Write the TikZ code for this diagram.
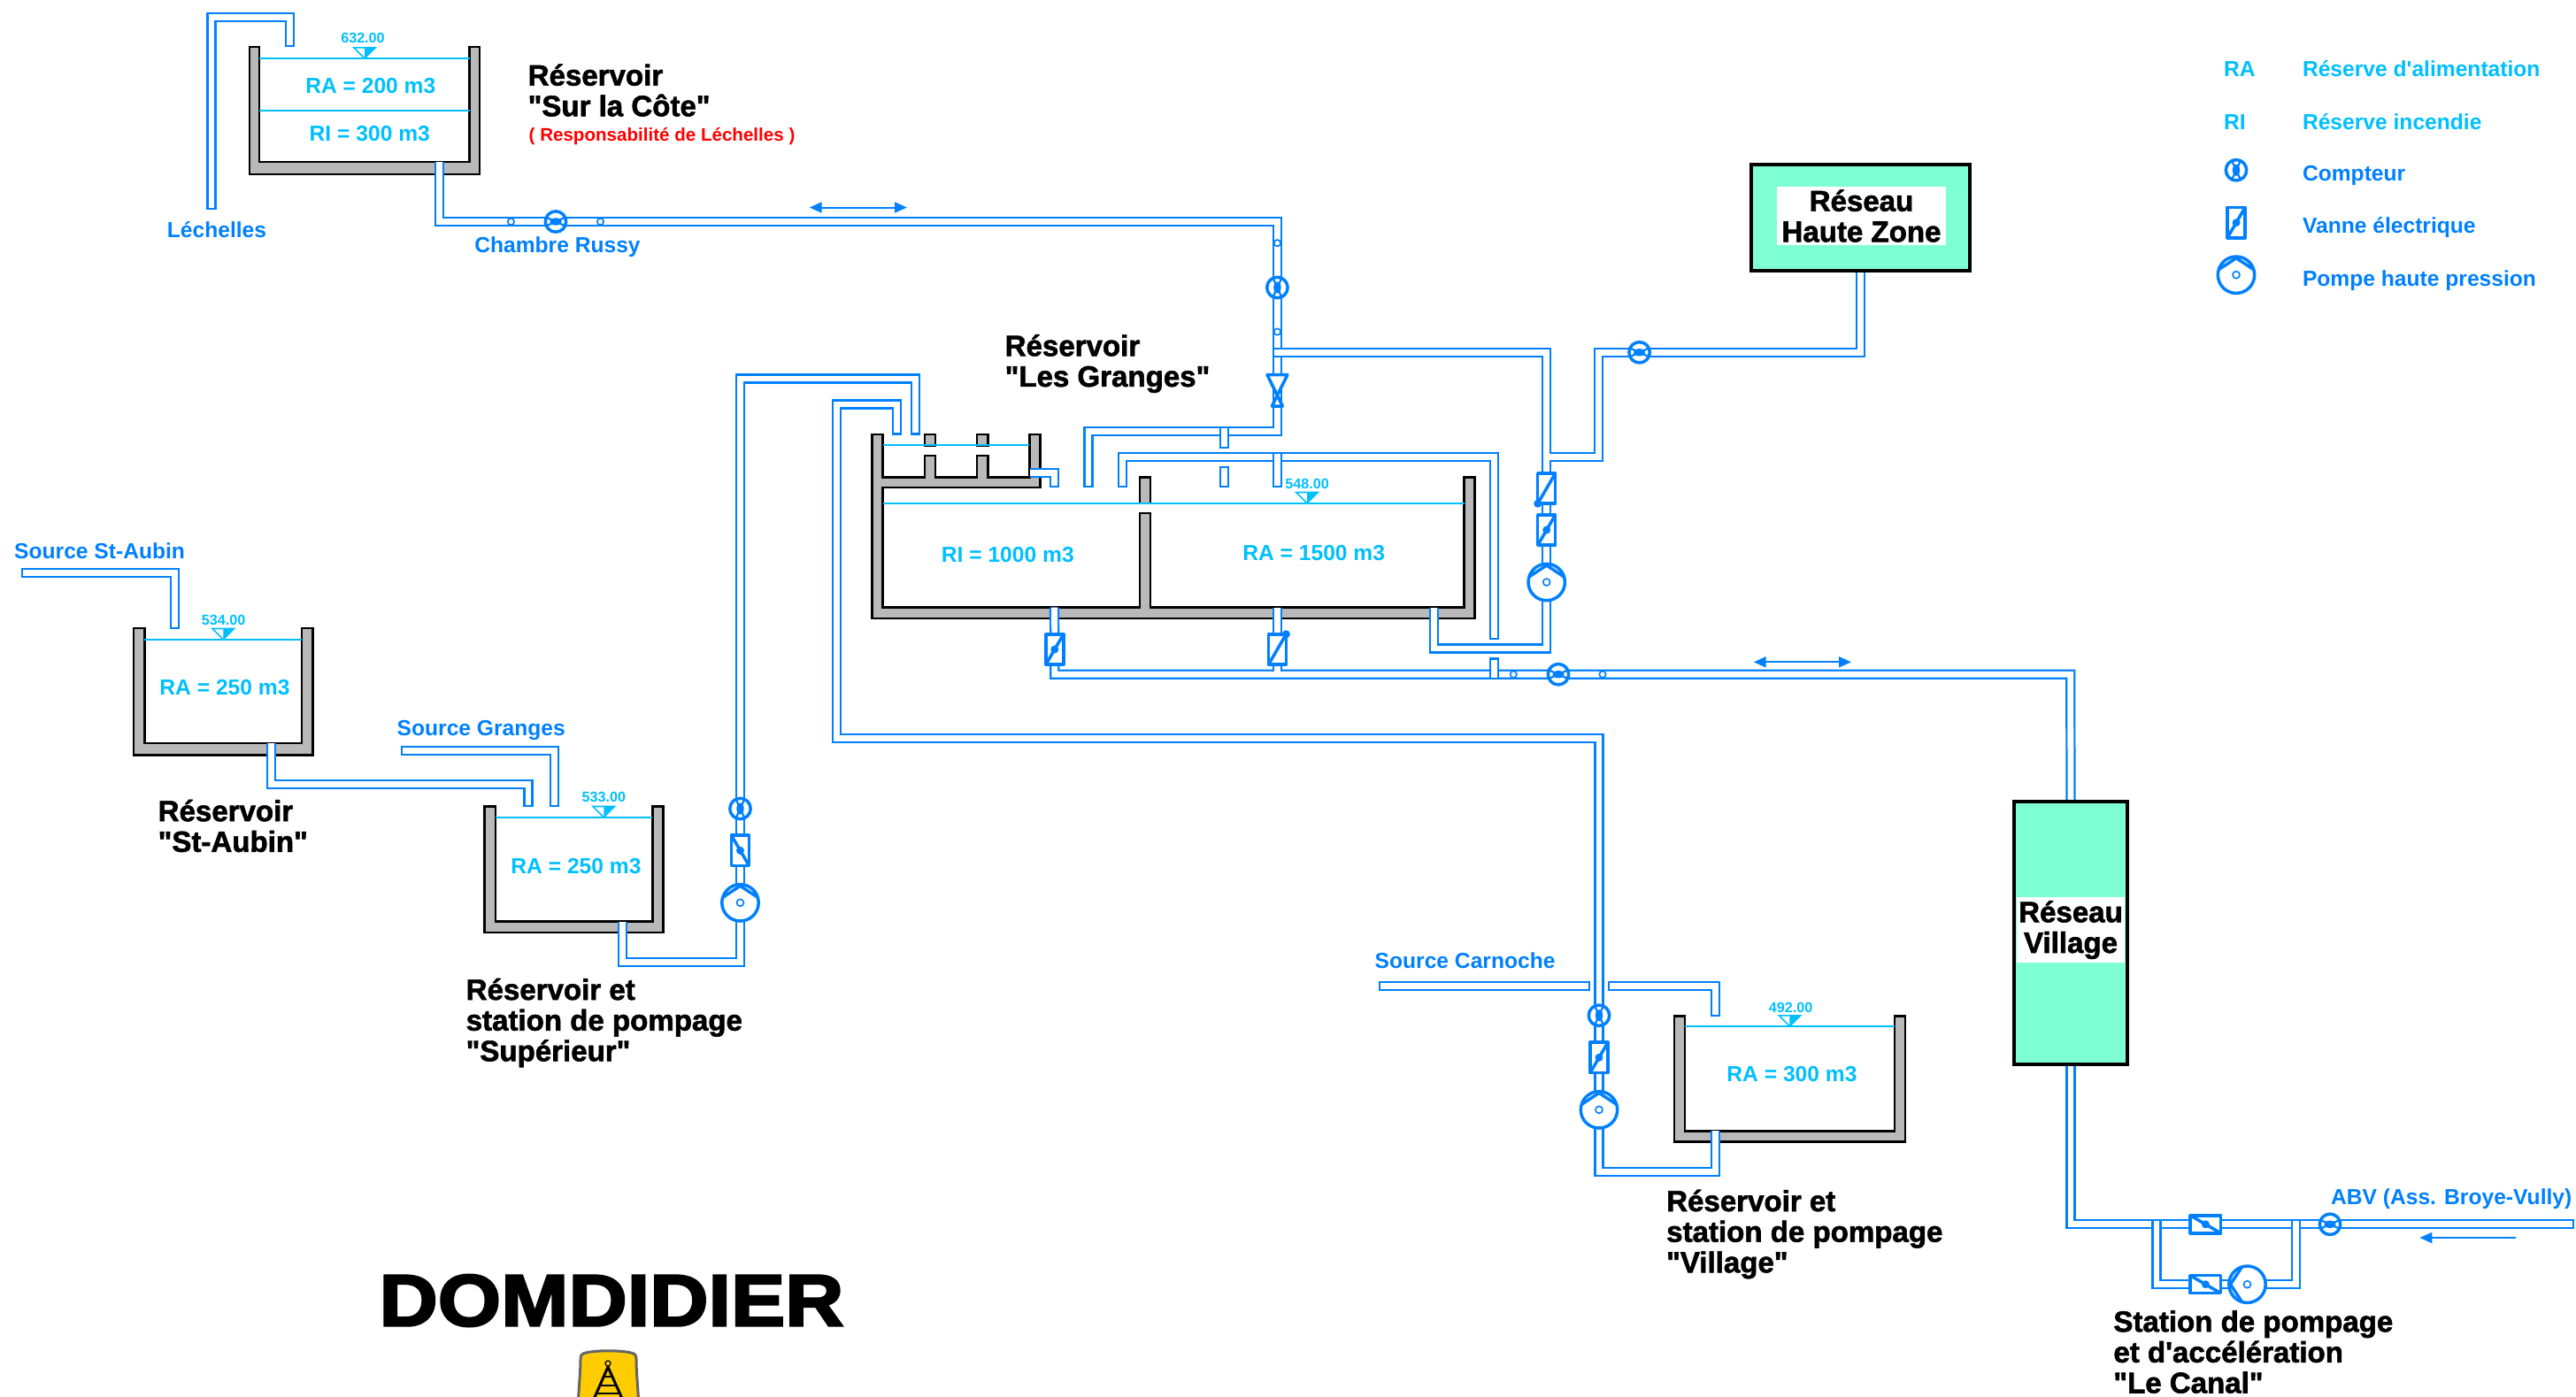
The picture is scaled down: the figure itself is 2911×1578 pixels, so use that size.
\documentclass[tikz,border=0pt]{standalone}
\usepackage{fontspec}
\usetikzlibrary{arrows.meta}
\newfontfamily\labfont{Liberation Sans}
\newfontfamily\heavyfont{Liberation Sans}[BoldFeatures={FakeBold=1.8}]
\newfontfamily\blackfont{Liberation Sans}[BoldFeatures={FakeBold=3,FakeStretch=1.11}]
\definecolor{pipeblue}{HTML}{0080FF}
\definecolor{eaublue}{HTML}{00BFFF}
\definecolor{wallgray}{HTML}{B9B9B9}
\definecolor{reseaugreen}{HTML}{7FFFD4}
\definecolor{logoyellow}{HTML}{FFCC00}
\tikzset{
  pipe/.style={draw=pipeblue,line width=0.022cm,double=white,double distance=0.068cm,line cap=rect,line join=miter},
  pipeopen/.style={pipe,line cap=butt},
  wall/.style={draw=black,fill=wallgray,line width=0.026cm,line join=miter},
  eau/.style={draw=eaublue,line width=0.02cm},
  devline/.style={draw=pipeblue,line width=0.035cm,line join=round},
  fineline/.style={draw=pipeblue,line width=0.016cm,fill=white},
  fleche/.style={draw=pipeblue,line width=0.02cm},
  titre/.style={anchor=west,align=left,inner sep=0pt,font=\heavyfont\bfseries\fontsize{9.4}{9.85}\selectfont},
  bleu/.style={text=pipeblue,inner sep=0pt,font=\labfont\bfseries\fontsize{7}{8}\selectfont},
  clair/.style={bleu,text=eaublue},
  volume/.style={clair,font=\labfont\bfseries\fontsize{7}{8}\selectfont},
  cote/.style={clair,font=\labfont\bfseries\fontsize{4.6}{5}\selectfont},
  reseau/.style={draw=black,fill=reseaugreen,line width=0.04cm,inner sep=0pt},
  reseautxt/.style={fill=white,inner sep=0pt,align=center,font=\heavyfont\bfseries\fontsize{9.4}{9.85}\selectfont},
  pump/.pic={
    \draw[devline,fill=white] (0,0) circle (20.7);
    \draw[devline] (-19.8,-6) -- (0,-19) -- (19.8,-6);
    \draw[fineline] (0,0) circle (4);
  },
  compteur/.pic={
    \draw[devline,fill=white] (0,0) circle (11.7);
    \draw[draw=pipeblue,line width=0.022cm] (-5,-11) -- (5,11) (5,-11) -- (-5,11);
    \fill[pipeblue] (0,0) ellipse (4.2 and 6.5);
  },
  pics/vanne/.style={code={
    \draw[devline,fill=white] (-10,-17.2) rectangle (10,17.2);
    \draw[devline] (-10,17.2) -- (10,-17.2);
    \fill[pipeblue] (#1) circle (4.5);
  }},
  clapet/.pic={
    \draw[devline,fill=white] (-11.5,-18) -- (11.5,-18) -- (-6,17.5) -- (6,17.5) -- cycle;
  },
  niveau/.pic={
    \draw[eau,fill=white,line width=0.016cm] (-12.2,-12.2) -- (12.2,-12.2) -- (0,0) -- cycle;
    \fill[eaublue] (0,-12.2) -- (12.2,-12.2) -- (0,0) -- cycle;
  },
  repere/.pic={
    \draw[fineline] (0,0) circle (3.7);
  }
}
\begin{document}
\begin{tikzpicture}[x=0.01cm,y=-0.01cm]
\clip (0,0) rectangle (2911,1578);
\draw[wall] (282,53) -- (282,197) -- (542,197) -- (542,53) -- (530.5,53) -- (530.5,183) -- (293,183) -- (293,53) -- cycle;
\draw[wall] (151,710) -- (151,853.3) -- (353.3,853.3) -- (353.3,710) -- (341,710) -- (341,840) -- (163.3,840) -- (163.3,710) -- cycle;
\draw[wall] (547.7,911.7) -- (547.7,1054) -- (749.7,1054) -- (749.7,911.7) -- (737.3,911.7) -- (737.3,1041.7) -- (560,1041.7) -- (560,911.7) -- cycle;
\draw[wall] (1891.8,1148.3) -- (1891.8,1290.7) -- (2153,1290.7) -- (2153,1148.3) -- (2140.8,1148.3) -- (2140.8,1278.3) -- (1904,1278.3) -- (1904,1148.3) -- cycle;
\draw[wall] (985.7,491) -- (985.7,699) -- (1666.3,699) -- (1666.3,539.3) -- (1654.6,539.3) -- (1654.6,686.7) -- (1300,686.7) -- (1300,580) -- (1287.8,580) -- (1287.8,686.7) -- (997.5,686.7) -- (997.5,551) -- (1175.5,551) -- (1175.5,491) -- (1163.3,491) -- (1163.3,539.3) -- (1116.3,539.3) -- (1116.3,515) -- (1104,515) -- (1104,539.3) -- (1057.1,539.3) -- (1057.1,515) -- (1044.9,515) -- (1044.9,539.3) -- (997.5,539.3) -- (997.5,491) -- cycle;
\draw[wall] (1287.8,539.3) rectangle (1300,569);
\draw[wall] (1044.9,491) rectangle (1057.1,504);
\draw[wall] (1104,491) rectangle (1116.3,504);
\draw[eau] (293,66) -- (530.5,66);
\draw[eau] (293,124.5) -- (530.5,124.5);
\draw[eau] (163.3,722.7) -- (341,722.7);
\draw[eau] (560,923.7) -- (737.3,923.7);
\draw[eau] (1904,1160) -- (2140.8,1160);
\draw[eau] (997.5,503.3) -- (1163.3,503.3);
\draw[eau] (997.5,568.7) -- (1654.6,568.7);
\pic at (412,66) {niveau};
\pic at (252.3,722.7) {niveau};
\pic at (682.3,923.7) {niveau};
\pic at (2022.4,1160) {niveau};
\pic at (1477,568.7) {niveau};
\node[reseau,minimum width=2.47cm,minimum height=1.2cm] (zone) at (2102.7,246) {};
\node[reseautxt,minimum width=1.91cm,minimum height=0.66cm] (zonetxt) at (2103.5,244) {Réseau\\Haute Zone};
\node[reseau,minimum width=1.28cm,minimum height=2.97cm] (village) at (2340,1054.5) {};
\node[reseautxt,minimum width=1.22cm,minimum height=0.74cm] (villagetxt) at (2340,1051) {Réseau\\Village};
\coordinate (sortcote) at (496.5,183);
\coordinate (sortaubin) at (306.8,840);
\coordinate (sortsup) at (703.5,1041.7);
\coordinate (sortvil) at (1938.4,1278.3);
\coordinate (sortri) at (1191.5,686.7);
\coordinate (sortra) at (1443.4,686.7);
\coordinate (sortaux) at (1620.5,686.7);
\coordinate (sortch) at (1164,534.7);
\coordinate (vanri) at (1191.8,734);
\coordinate (vanra) at (1443.4,734);
\coordinate (van1) at (1747.7,552);
\coordinate (van2) at (1747.7,599);
\coordinate (pompe1) at (1747.7,658);
\coordinate (vansup) at (836.5,961.3);
\coordinate (pompesup) at (836.5,1020.3);
\coordinate (cptsup) at (836.5,914);
\coordinate (vanvil) at (1807,1195.3);
\coordinate (pompevil) at (1807,1254.3);
\coordinate (cptvil) at (1807,1147.7);
\coordinate (vancan1) at (2492.4,1383.8);
\coordinate (vancan2) at (2492.4,1451.7);
\coordinate (pompecan) at (2539.5,1451.7);
\coordinate (cptabv) at (2633,1383.8);
\coordinate (clap) at (1443.4,441.5);
\draw[pipe] (239,231.4) -- (239,19.5) -- (327.5,19.5) -- (327.5,47.4);
\draw[pipeopen] (sortcote) |- (1443.4,250.5) -- (clap);
\draw[pipe] (1443.4,398.3) -- (1747.7,398.3) -- (pompe1);
\draw[pipeopen] (1751.1,516.7) -- (1806.5,516.7) -- (1806.5,398.3) -| (zone.south);
\draw[pipeopen] (sortaux) |- (1747.7,733) -- (pompe1);
\draw[pipe] (clap) |- (1230,487.2) -- (1230,545.4);
\draw[pipe] (1383.7,487.2) -- (1383.7,501.1);
\draw[pipe] (1383.7,532.3) -- (1383.7,545.4);
\draw[pipe] (1268.4,545.4) |- (1688.8,516.7) -- (1688.8,717.1);
\draw[pipe] (1443.4,516.7) -- (1443.4,545.4);
\draw[pipe] (1171,534.7) -| (1191.4,545.4);
\draw[pipeopen] (sortch) -- ++(14,0);
\draw[pipeopen] (sortri) -- (vanri);
\draw[pipeopen] (vanri) |- (2339.7,762.2) -- (village.north);
\draw[pipeopen] (sortra) -- (1443.4,758.8);
\draw[pipe] (1688.5,762.2) -- (1688.5,748.9);
\draw[pipe] (29.6,647.2) -| (197.3,705.1);
\draw[pipe] (458.3,848.3) -| (626.3,906.4);
\draw[pipe] (306.8,846) |- (597,886.7) -- (597,906.4);
\draw[pipeopen] (sortaubin) -- ++(0,16);
\draw[pipeopen] (sortsup) |- (836.5,1087.8) -- (pompesup);
\draw[pipe] (pompesup) |- (1034.7,428) -- (1034.7,486);
\draw[pipeopen] (sortvil) |- (1807,1324.5) -- (pompevil);
\draw[pipe] (pompevil) |- (945.5,834.5) |- (1013.3,457) -- (1013.3,486);
\draw[pipe] (1563.2,1114.5) -- (1791.4,1114.5);
\draw[pipe] (1822.3,1114.5) -| (1938.4,1143.4);
\draw[pipeopen] (village.south) |- (vancan1);
\draw[pipe] (vancan1) -- (2903.4,1383.8);
\draw[pipe] (2437,1383.8) |- (vancan2);
\draw[pipe] (vancan2) -- (pompecan);
\draw[pipe] (pompecan) -| (2594.5,1383.8);
\pic at (628,250.5) [rotate=90] {compteur};
\pic at (577.4,250.5) {repere};
\pic at (678.5,250.5) {repere};
\pic at (1443.4,325) {compteur};
\pic at (1443.4,274.7) {repere};
\pic at (1443.4,375) {repere};
\pic at (clap) {clapet};
\pic at (1852.6,398.3) [rotate=90] {compteur};
\pic at (van1) {vanne={-10,17.2}};
\pic at (van2) {vanne={0,0}};
\pic at (pompe1) {pump};
\pic at (vanri) {vanne={0,0}};
\pic at (vanra) {vanne={10,-17.2}};
\pic at (1761,762.2) [rotate=90] {compteur};
\pic at (1710.3,762.2) {repere};
\pic at (1811,762.2) {repere};
\pic at (cptsup) {compteur};
\pic at (vansup) [xscale=-1] {vanne={0,0}};
\pic at (pompesup) {pump};
\pic at (cptvil) {compteur};
\pic at (vanvil) {vanne={0,0}};
\pic at (pompevil) {pump};
\pic at (vancan1) [rotate=90] {vanne={0,0}};
\pic at (vancan2) [rotate=90] {vanne={0,0}};
\pic at (pompecan) [rotate=90] {pump};
\pic at (cptabv) [rotate=90] {compteur};
\coordinate (fleche1a) at (914.7,234.5);
\coordinate (fleche1b) at (1025,234.5);
\coordinate (fleche2a) at (1981.7,748.3);
\coordinate (fleche2b) at (2092,748.3);
\coordinate (fleche3a) at (2843,1399);
\coordinate (fleche3b) at (2734.4,1399);
\draw[fleche,{Triangle[length=0.14cm,width=0.12cm]}-{Triangle[length=0.14cm,width=0.12cm]}] (fleche1a) -- (fleche1b);
\draw[fleche,{Triangle[length=0.14cm,width=0.12cm]}-{Triangle[length=0.14cm,width=0.12cm]}] (fleche2a) -- (fleche2b);
\draw[fleche,-{Triangle[length=0.14cm,width=0.12cm]}] (fleche3a) -- (fleche3b);
\node[titre] (tcote) at (596,102) {Réservoir\\"Sur la Côte"};
\node[anchor=west,inner sep=0pt,text=red,font=\labfont\bfseries\fontsize{5.85}{7}\selectfont] (tresp) at (597,153.7) {( Responsabilité de Léchelles )};
\node[titre] (tgranges) at (1135,411) {Réservoir\\"Les Granges"};
\node[titre] (taubin) at (178,933.5) {Réservoir\\"St-Aubin"};
\node[titre] (tsup) at (526,1156) {Réservoir et\\station de pompage\\"Supérieur"};
\node[titre] (tvil) at (1882.5,1395) {Réservoir et\\station de pompage\\"Village"};
\node[titre] (tcanal) at (2387.7,1528) {Station de pompage\\et d'accélération\\"Le Canal"};
\node[bleu] (llech) at (245,260) {Léchelles};
\node[bleu] (lrussy) at (630,279) {Chambre Russy};
\node[bleu,anchor=west] (lsaubin) at (15.5,622.7) {Source St-Aubin};
\node[bleu,anchor=west] (lsgranges) at (448,825.3) {Source Granges};
\node[bleu,anchor=west] (lscarn) at (1553,1086) {Source Carnoche};
\node[bleu,anchor=east] (labv) at (2907,1354.7) {ABV (Ass. Broye-Vully)};
\node[volume] (v1) at (418.8,96.7) {RA = 200 m3};
\node[volume] (v2) at (417.8,151) {RI = 300 m3};
\node[volume] (v3) at (254,776.7) {RA = 250 m3};
\node[volume] (v4) at (651,979) {RA = 250 m3};
\node[volume] (v5) at (2025,1214) {RA = 300 m3};
\node[volume] (v6) at (1138.8,626.7) {RI = 1000 m3};
\node[volume] (v7) at (1484.7,625) {RA = 1500 m3};
\node[cote] (c1) at (410,43.3) {632.00};
\node[cote] (c2) at (252.7,701) {534.00};
\node[cote] (c3) at (682.3,901) {533.00};
\node[cote] (c4) at (2023.7,1139) {492.00};
\node[cote] (c5) at (1477,546.7) {548.00};
\node[clair,anchor=west] (lg1) at (2512.3,77.7) {RA};
\node[clair,anchor=west] (lg2) at (2512.3,137.7) {RI};
\node[clair,anchor=west] (lg3) at (2601.3,77.7) {Réserve d'alimentation};
\node[clair,anchor=west] (lg4) at (2601.3,137.7) {Réserve incendie};
\node[bleu,anchor=west] (lg5) at (2601.3,198.5) {Compteur};
\node[bleu,anchor=west] (lg6) at (2601.3,257.5) {Vanne électrique};
\node[bleu,anchor=west] (lg7) at (2601.3,316.8) {Pompe haute pression};
\pic at (2527,192.3) {compteur};
\pic at (2527,251.7) {vanne={0,0}};
\pic at (2527,310.7) {pump};
\node[inner sep=0pt,font=\blackfont\bfseries\fontsize{23.5}{24}\selectfont] (ttitre) at (691,1470) {DOMDIDIER};
\draw[draw=black!60,fill=logoyellow,line width=0.03cm] (653,1590) .. controls (654,1570) and (656,1550) .. (656,1536) .. controls (656,1531) and (658,1530) .. (662,1529) .. controls (675,1526) and (700,1526) .. (713,1529) .. controls (717,1530) and (719,1531) .. (719,1536) .. controls (719,1550) and (721,1570) .. (722,1590) -- cycle;
\draw[draw=black,line width=0.03cm] (671.7,1580) -- (687,1545) -- (702.7,1580);
\draw[draw=black,line width=0.02cm] (682,1556) -- (692,1556) (678,1566) -- (696,1566) (674,1575) -- (700,1575);
\draw[draw=black,line width=0.012cm,fill=logoyellow] (687,1541) circle (3);
\end{tikzpicture}
\end{document}
